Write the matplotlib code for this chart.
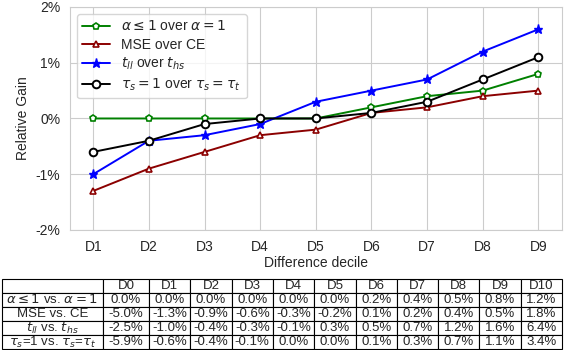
import numpy as np
import seaborn as sns
from matplotlib import pyplot as plt
from matplotlib.ticker import FuncFormatter

# Gains per difference decile (percent)
deciles = ["D1", "D2", "D3", "D4", "D5", "D6", "D7", "D8", "D9"]
alpha_gain = [0.0, 0.0, 0.0, 0.0, 0.0, 0.2, 0.4, 0.5, 0.8]
mse_gain = [-1.3, -0.9, -0.6, -0.3, -0.2, 0.1, 0.2, 0.4, 0.5]
t_gain = [-1.0, -0.4, -0.3, -0.1, 0.3, 0.5, 0.7, 1.2, 1.6]
tau_gain = [-0.6, -0.4, -0.1, 0.0, 0.0, 0.1, 0.3, 0.7, 1.1]

# Table below the plot
table_cols = ["D0", "D1", "D2", "D3", "D4", "D5", "D6", "D7", "D8", "D9", "D10"]
table_rows = [r"$\alpha \leq 1$ vs. $\alpha = 1$", "MSE vs. CE",
              r"$t_{ll}$ vs. $t_{hs}$", r"$\tau_s$=1 vs. $\tau_s$=$\tau_t$"]
table_vals = [
    ["0.0%", "0.0%", "0.0%", "0.0%", "0.0%", "0.0%", "0.2%", "0.4%", "0.5%", "0.8%", "1.2%"],
    ["-5.0%", "-1.3%", "-0.9%", "-0.6%", "-0.3%", "-0.2%", "0.1%", "0.2%", "0.4%", "0.5%", "1.8%"],
    ["-2.5%", "-1.0%", "-0.4%", "-0.3%", "-0.1%", "0.3%", "0.5%", "0.7%", "1.2%", "1.6%", "6.4%"],
    ["-5.9%", "-0.6%", "-0.4%", "-0.1%", "0.0%", "0.0%", "0.1%", "0.3%", "0.7%", "1.1%", "3.4%"],
]

sns.set_style("whitegrid")
plt.rcParams['font.family'] = ['Liberation Sans', 'DejaVu Sans']
plt.rcParams['mathtext.fontset'] = 'dejavusans'

fig = plt.figure(figsize=(5.68, 3.5), dpi=100)
ax = fig.add_axes([0.123, 0.343, 0.866, 0.637])

x = np.arange(len(deciles))
ax.plot(x, alpha_gain, color="green", marker="p", mfc="white", ms=5, mew=1.2, lw=1.4,
        label=r"$\alpha \leq 1$ over $\alpha = 1$")
ax.plot(x, mse_gain, color="darkred", marker="^", mfc="white", ms=5, mew=1.2, lw=1.4,
        label="MSE over CE")
ax.plot(x, t_gain, color="blue", marker="*", ms=6.5, lw=1.4,
        label=r"$t_{ll}$ over $t_{hs}$")
ax.plot(x, tau_gain, color="black", marker="o", mfc="white", ms=5.5, mew=1.4, lw=1.4,
        label=r"$\tau_s = 1$ over $\tau_s = \tau_t$")

ax.set_xticks(x)
ax.set_xticklabels(deciles)
ax.set_xlim(-0.42, 8.42)
ax.set_ylim(-2, 2)
ax.set_yticks([-2, -1, 0, 1, 2])
ax.yaxis.set_major_formatter(FuncFormatter(lambda v, p: "%d%%" % v))
ax.tick_params(labelsize=10)
ax.set_xlabel("Difference decile", fontsize=10, labelpad=2)
ax.set_ylabel("Relative Gain", fontsize=10)
ax.legend(loc="upper left", fontsize=10, handlelength=2, borderpad=0.4,
          labelspacing=0.3)

# Table
tax = fig.add_axes([0.0035, 0.003, 0.986, 0.2])
tax.axis("off")
cells = [[""] + table_cols] + [[table_rows[i]] + table_vals[i] for i in range(len(table_rows))]
widths = [100, 46] + [41] * 10
tbl = tax.table(cellText=cells, colWidths=widths, bbox=[0, 0, 1, 1], cellLoc="center")
tbl.auto_set_font_size(False)
tbl.set_fontsize(9.5)
for (r, c), cell in tbl.get_celld().items():
    cell.set_edgecolor("black")
    cell.set_linewidth(0.8)
    cell.PAD = 0.02

plt.savefig("out.png", dpi=100)
